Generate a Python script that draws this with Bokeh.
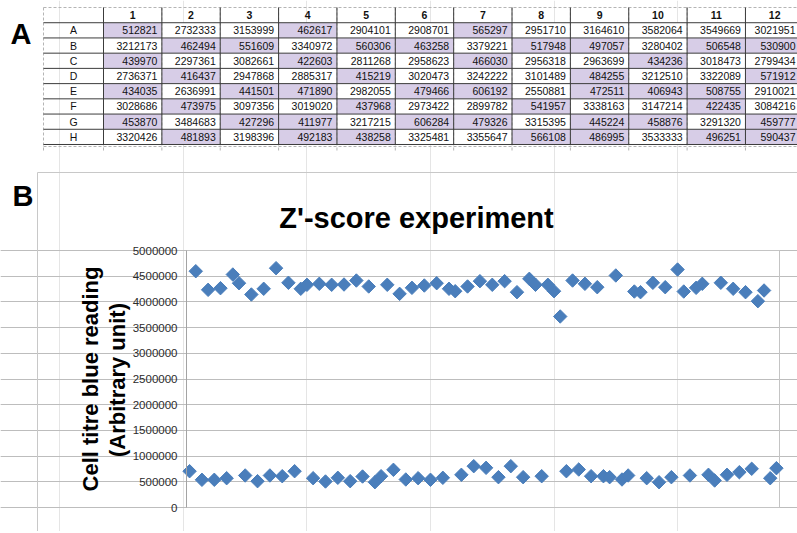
import numpy as np
from bokeh.plotting import figure
from bokeh.models import (Range1d, FixedTicker, BasicTickFormatter, Label, LinearAxis, Grid)
from bokeh.core.properties import value
from bokeh.embed import file_html
from bokeh.resources import INLINE

# ---------------- data ----------------
plate_rows = ["A", "B", "C", "D", "E", "F", "G", "H"]
plate_cols = ["1", "2", "3", "4", "5", "6", "7", "8", "9", "10", "11", "12"]
row_A = [512821, 2732333, 3153999, 462617, 2904101, 2908701, 565297, 2951710, 3164610, 3582064, 3549669, 3021951]
row_B = [3212173, 462494, 551609, 3340972, 560306, 463258, 3379221, 517948, 497057, 3280402, 506548, 530900]
row_C = [439970, 2297361, 3082661, 422603, 2811268, 2958623, 466030, 2956318, 2963699, 434236, 3018473, 2799434]
row_D = [2736371, 416437, 2947868, 2885317, 415219, 3020473, 3242222, 3101489, 484255, 3212510, 3322089, 571912]
row_E = [434035, 2636991, 441501, 471890, 2982055, 479466, 606192, 2550881, 472511, 406943, 508755, 2910021]
row_F = [3028686, 473975, 3097356, 3019020, 437968, 2973422, 2899782, 541957, 3338163, 3147214, 422435, 3084216]
row_G = [453870, 3484683, 427296, 411977, 3217215, 606284, 479326, 3315395, 445224, 458876, 3291320, 459777]
row_H = [3320426, 481893, 3198396, 492183, 438258, 3325481, 3355647, 566108, 486995, 3533333, 496251, 590437]
plate_values = [row_A, row_B, row_C, row_D, row_E, row_F, row_G, row_H]
low_threshold = 1000000

well_index = list(range(1, 97))
readings = [
    706000, 4597000, 539000, 4235000, 539000, 4267000, 570000, 4533000, 4364000, 623000,
    4144000, 512000, 4255000, 623000, 4656000, 609000, 4372000, 706000, 4255000, 4333000,
    570000, 4352000, 506000, 4333000, 578000, 4338000, 512000, 4416000, 603000, 4300000,
    492000, 609000, 4333000, 733000, 4157000, 545000, 4274000, 570000, 4319000, 539000,
    4364000, 578000, 4255000, 4208000, 636000, 4300000, 804000, 4403000, 772000, 4333000,
    590000, 4403000, 804000, 4189000, 590000, 4449000, 4333000, 609000, 4333000, 4208000,
    3716000, 706000, 4416000, 739000, 4352000, 609000, 4286000, 609000, 590000, 4514000,
    545000, 623000, 4202000, 4189000, 570000, 4372000, 492000, 4286000, 590000, 4630000,
    4202000, 623000, 4274000, 4352000, 636000, 525000, 4372000, 636000, 4255000, 687000,
    4189000, 753000, 4014000, 4222000, 570000, 765000,
]
y_ticks = [0, 500000, 1000000, 1500000, 2000000, 2500000, 3000000, 3500000, 4000000, 4500000, 5000000]
chart_title = "Z'-score experiment"
y_label_1 = "Cell titre blue reading"
y_label_2 = "(Arbitrary unit)"

# ---------------- layout constants (page pixels) ----------------
FONT = "Liberation Sans"
W, H = 797, 531
PURPLE = "#d7cde7"
GRID_DARK = "#3c3c3c"
DASH_GREY = "#b5b5b5"
MARKER = "#4a7ebb"

# chart plot-area in page pixels
fl, fr, ft, fb = 186, 779, 250, 507
x_lo = well_index[0] - 0.5
x_hi = well_index[-1] + 0.5
y_lo, y_hi = y_ticks[0], y_ticks[-1]


def ccx(px):
    return x_lo + (px - fl) / (fr - fl) * (x_hi - x_lo)


def ccy(py):
    return y_lo + (fb - py) / (fb - ft) * (y_hi - y_lo)


# table grid in page pixels
col_w = 58.36
row_h = 15.222
tx0 = 103.0   # left edge of column "1"
ty0 = 7.0     # top edge of header row


def tcx(px):
    return 0.5 + (px - tx0) / col_w


def tcy(py):
    return (py - ty0) / row_h - 0.5


p = figure(width=W, height=H,
           x_range=Range1d(ccx(0), ccx(W)), y_range=Range1d(ccy(H), ccy(0)),
           x_axis_location=None, y_axis_location=None,
           toolbar_location=None, output_backend="svg",
           min_border=0, outline_line_color=None,
           background_fill_color="white", border_fill_color="white")
p.extra_x_ranges = {"tcol": Range1d(tcx(0), tcx(W))}
p.extra_y_ranges = {"trow": Range1d(tcy(H), tcy(0))}
T = dict(x_range_name="tcol", y_range_name="trow")

# ================= panel A: table =================
label_left = tcx(43)
label_center = (label_left + 0.5) / 2
ncols = len(plate_cols)
nrows = len(plate_rows)
text_right_limit = tcx(W - 2)

cx, cy, ctext, cfill = [], [], [], []
for r, vals in enumerate(plate_values, start=1):
    for c, v in enumerate(vals, start=1):
        cx.append(c)
        cy.append(r)
        ctext.append(str(v))
        cfill.append(PURPLE if v < low_threshold else "white")
p.rect(x=cx, y=cy, width=1, height=1, fill_color=cfill, line_color=None, **T)

bounds_x = [label_left] + [c + 0.5 for c in range(0, ncols + 1)]
p.segment(x0=bounds_x, y0=[-0.5] * len(bounds_x), x1=bounds_x, y1=[tcy(152)] * len(bounds_x),
          line_color=DASH_GREY, line_width=1, line_dash="3 2", **T)
p.segment(x0=[label_left, label_left], y0=[-0.5, tcy(146)], x1=[ncols + 2, ncols + 2], y1=[-0.5, tcy(146)],
          line_color=DASH_GREY, line_width=1, line_dash="3 2", **T)

hy = [r + 0.5 for r in range(0, nrows + 1)]
p.segment(x0=[label_left] * len(hy), y0=hy, x1=[ncols + 2] * len(hy), y1=hy,
          line_color=GRID_DARK, line_width=1, **T)
vx = [c + 0.5 for c in range(0, ncols + 1)]
p.segment(x0=vx, y0=[-0.5] * len(vx), x1=vx, y1=[nrows + 0.5] * len(vx),
          line_color=GRID_DARK, line_width=1, **T)

p.text(x=list(range(1, ncols + 1)), y=[0] * ncols, text=plate_cols,
       text_font=value(FONT), text_font_size=value("10.5px"), text_font_style="bold",
       text_align="center", text_baseline="middle", text_color="#111111", **T)
p.text(x=[label_center] * nrows, y=list(range(1, nrows + 1)), text=plate_rows,
       text_font=value(FONT), text_font_size=value("10.5px"),
       text_align="center", text_baseline="middle", text_color="#111111", **T)
p.text(x=[min(c + 0.5 - 4.5 / col_w, text_right_limit) for c in cx], y=cy, text=ctext,
       text_font=value(FONT), text_font_size=value("10.5px"),
       text_align="right", text_baseline="middle", text_color="#111111", **T)

p.add_layout(Label(x=tcx(10), y=tcy(33), text="A", text_font=FONT, text_font_size="29px",
                   text_font_style="bold", text_baseline="alphabetic", text_align="left",
                   text_color="black", **T))

# ================= panel B: chart =================
# outer chart box
p.segment(x0=[ccx(37), ccx(37)], y0=[ccy(172), ccy(172)], x1=[ccx(37), ccx(W + 50)], y1=[ccy(H + 50), ccy(172)],
          line_color="#c8c8c8", line_width=1)

p.add_layout(Grid(dimension=1, ticker=FixedTicker(ticks=y_ticks), bounds=(x_lo, x_hi),
                  grid_line_color="#bdbdbd", grid_line_width=1.2))

p.quad(left=[x_lo], right=[x_hi], bottom=[y_lo], top=[y_hi],
       fill_color=None, line_color="#c4c4c4", line_width=1)

yaxis = LinearAxis(fixed_location=x_lo, bounds=(y_lo, y_hi),
                   ticker=FixedTicker(ticks=y_ticks),
                   formatter=BasicTickFormatter(use_scientific=False),
                   axis_line_color="#a3a3a3",
                   major_tick_line_color=None, minor_tick_line_color=None,
                   major_tick_in=0, major_tick_out=0,
                   major_label_standoff=9,
                   major_label_text_font=FONT, major_label_text_font_size="11.5px",
                   major_label_text_color="#2b2b2b")
p.add_layout(yaxis, "left")

p.scatter(x=well_index, y=readings, marker="square", size=9.5, angle=np.pi / 4,
          fill_color=MARKER, line_color=MARKER)

p.add_layout(Label(x=ccx(416), y=ccy(217), text=chart_title, text_font=FONT, text_font_size="29px",
                   text_font_style="bold", text_align="center", text_baseline="alphabetic",
                   text_color="black"))
p.add_layout(Label(x=ccx(90), y=ccy(378.5), text=y_label_1, text_font=FONT, text_font_size="22px",
                   text_font_style="bold", text_align="center", text_baseline="middle",
                   angle=np.pi / 2, text_color="black"))
p.add_layout(Label(x=ccx(117), y=ccy(379.5), text=y_label_2, text_font=FONT, text_font_size="22px",
                   text_font_style="bold", text_align="center", text_baseline="middle",
                   angle=np.pi / 2, text_color="black"))
p.add_layout(Label(x=ccx(12), y=ccy(195), text="B", text_font=FONT, text_font_size="29px",
                   text_font_style="bold", text_align="left", text_baseline="alphabetic",
                   text_color="black"))

open("out.html", "w").write(file_html(p, INLINE))
